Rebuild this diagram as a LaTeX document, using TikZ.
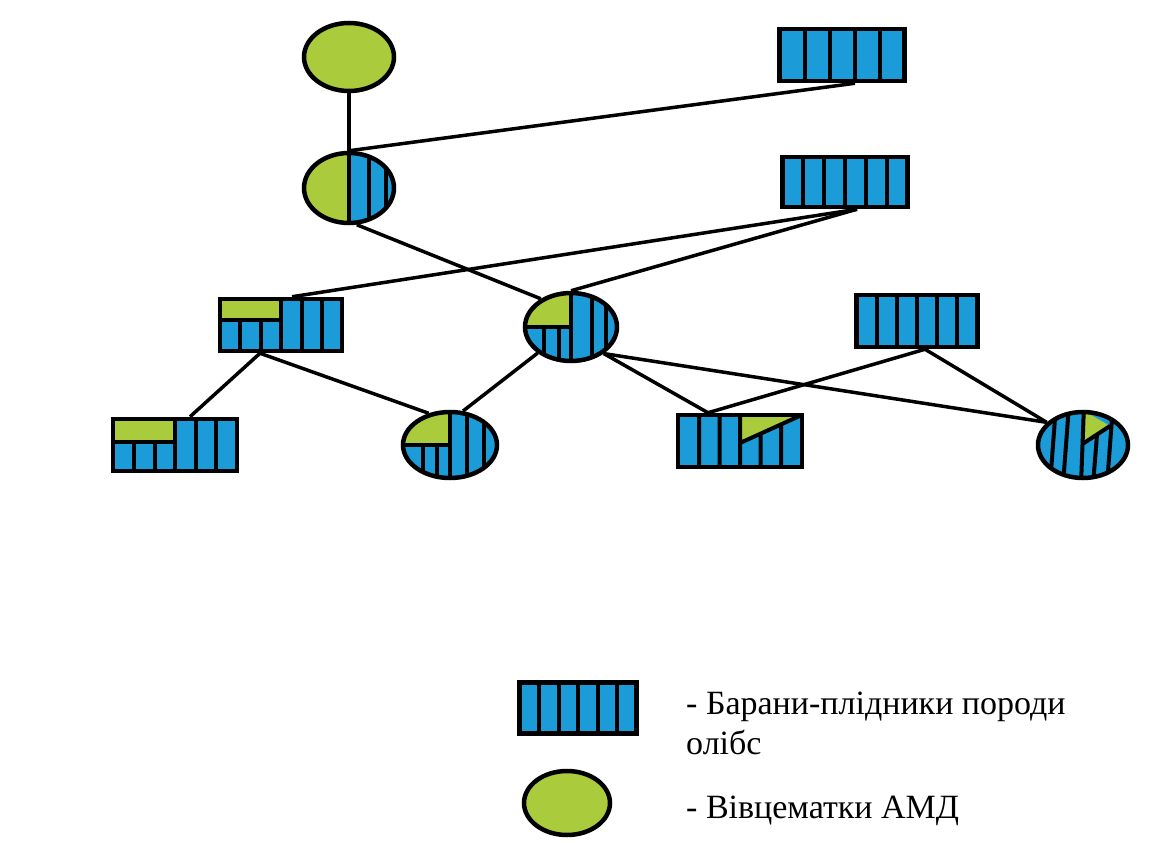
\documentclass[tikz,border=0pt]{standalone}
\usepackage{fontspec}
\setmainfont{Liberation Serif}
\usetikzlibrary{shapes.geometric,calc}
\definecolor{sheepblue}{RGB}{27,156,216}
\definecolor{ewegreen}{RGB}{170,204,60}
\begin{document}
\begin{tikzpicture}[x=1pt,y=-1pt,
  ram/.style={rectangle, draw, line width=4.5pt, fill=sheepblue, inner sep=0pt,
    minimum width=124pt, minimum height=52pt},
  ewe/.style={ellipse, draw, line width=4.5pt, fill=ewegreen, inner sep=0pt,
    minimum width=90pt, minimum height=68pt},
  cross/.style={ellipse, draw, line width=4.5pt, fill=sheepblue, inner sep=0pt,
    minimum width=92pt, minimum height=68pt},
  inner/.style={line width=4pt},
  link/.style={line width=3.5pt},
  stripes/.style={path picture={
    \foreach \f in {#1}
      \draw[inner] ($(path picture bounding box.north west)!\f!(path picture bounding box.north east)$)
        -- ($(path picture bounding box.south west)!\f!(path picture bounding box.south east)$);}},
  legendtext/.style={font=\fontsize{34}{40}\selectfont, inner sep=0pt, align=left}
]
\useasboundingbox (0,0) rectangle (1171,843);

% row 1
\node[ewe] (A) at (349,57) {};
\node[ram, minimum width=125pt, stripes={0.2,0.4,0.6,0.8}] (R1) at (842,55) {};

% row 2
\node[cross, minimum width=90pt, minimum height=70pt, path picture={
  \begin{scope}[shift={(path picture bounding box.center)}]
    \fill[ewegreen] (-50,-40) rectangle (0,40);
    \draw[inner] (0,-40) -- (0,40) (20,-40) -- (20,40) (37,-40) -- (37,40);
  \end{scope}}] (B) at (349,188) {};
\node[ram, minimum width=125pt, minimum height=50pt,
  stripes={0.1667,0.3333,0.5,0.6667,0.8333}] (R2) at (845,182) {};

% row 3
\node[ram, minimum width=122pt, path picture={
  \begin{scope}[shift={(path picture bounding box.center)}]
    \fill[ewegreen] (-62,-30) rectangle (0,-5);
    \draw[inner] (-62,-5) -- (0,-5)
      (-41,-5) -- (-41,30) (-20.5,-5) -- (-20.5,30)
      (0,-30) -- (0,30) (20.5,-30) -- (20.5,30) (41,-30) -- (41,30);
  \end{scope}}] (R3) at (281,325) {};
\node[cross, path picture={
  \begin{scope}[shift={(path picture bounding box.center)}]
    \fill[ewegreen] (-50,-40) rectangle (0,0);
    \draw[inner] (-50,0) -- (0,0) (0,-40) -- (0,40)
      (-27,0) -- (-27,40) (-12,0) -- (-12,40)
      (21,-40) -- (21,40) (35,-40) -- (35,40);
  \end{scope}}] (C) at (571,327) {};
\node[ram, minimum width=121pt, stripes={0.1667,0.3333,0.5,0.6667,0.8333}] (R4) at (917,321) {};

% row 4
\node[ram, path picture={
  \begin{scope}[shift={(path picture bounding box.center)}]
    \fill[ewegreen] (-62,-30) rectangle (0,-3);
    \draw[inner] (-62,-3) -- (0,-3)
      (-41,-3) -- (-41,30) (-20.5,-3) -- (-20.5,30)
      (0,-30) -- (0,30) (20.5,-30) -- (20.5,30) (41,-30) -- (41,30);
  \end{scope}}] (R5) at (175,445) {};
\node[cross, minimum width=94pt, minimum height=66pt, path picture={
  \begin{scope}[shift={(path picture bounding box.center)}]
    \fill[ewegreen] (-50,-40) rectangle (0,0);
    \draw[inner] (-50,0) -- (0,0) (0,-40) -- (0,40)
      (-27,0) -- (-27,40) (-13,0) -- (-13,40)
      (17,-40) -- (17,40) (34,-40) -- (34,40);
  \end{scope}}] (D) at (450,445) {};
\node[ram, path picture={
  \begin{scope}[shift={(path picture bounding box.center)}]
    \fill[ewegreen] (0,-30) -- (66,-30) -- (0,2) -- cycle;
    \draw[inner] (-41,-30) -- (-41,30) (-20.5,-30) -- (-20.5,30) (0,-30) -- (0,30)
      (20.5,-7.5) -- (20.5,30) (41,-16.5) -- (41,30)
      (0,2) -- (64,-27);
  \end{scope}}] (R6) at (740,441) {};
\node[cross, minimum width=90pt, minimum height=66pt, path picture={
  \begin{scope}[shift={(path picture bounding box.center)}]
    \fill[ewegreen] (1,-34) -- (27,-19) -- (1,-2) -- cycle;
    \draw[inner] (-27,-40) -- (-33,40) (-14,-40) -- (-20,40) (1,-40) -- (-2,40)
      (14,-10) -- (10,40) (30,-40) -- (24,40) (1,-2) -- (27,-19);
  \end{scope}}] (E) at (1083,445) {};

% connectors
\draw[link] (A.south) -- (B.north);
\draw[link] ($(R1.south)+(13,0)$) -- (B.north);
\draw[link] ($(R2.south)+(12,0)$) -- ($(R3.north)+(11,0)$);
\draw[link] ($(R2.south)+(12,0)$) -- (C.north);
\draw[link] (B.-78) -- (C.137);
\draw[link] ($(R3.south)+(-21,0)$) -- ($(R5.north)+(15,0)$);
\draw[link] ($(R3.south)+(-21,0)$) -- (D.124);
\draw[link] (C.218) -- (D.69);
\draw[link] (C.-39) -- ($(R6.north)+(-32,0)$);
\draw[link] (C.-39) -- (E.148);
\draw[link] ($(R4.south)+(8,0)$) -- ($(R6.north)+(-32,0)$);
\draw[link] ($(R4.south)+(8,0)$) -- (E.148);

% legend
\node[ram, minimum width=117pt, minimum height=51pt,
  stripes={0.1667,0.3333,0.5,0.6667,0.8333}] (LR) at (578,708) {};
\node[ewe, minimum width=86pt, minimum height=64pt] (LE) at (567,803) {};
\node[legendtext, anchor=north west] (LT1) at (686,692) {- Барани-плідники породи\\олібс};
\node[legendtext, anchor=base west] (LT2) at (686,818) {- Вівцематки АМД};
\end{tikzpicture}
\end{document}
